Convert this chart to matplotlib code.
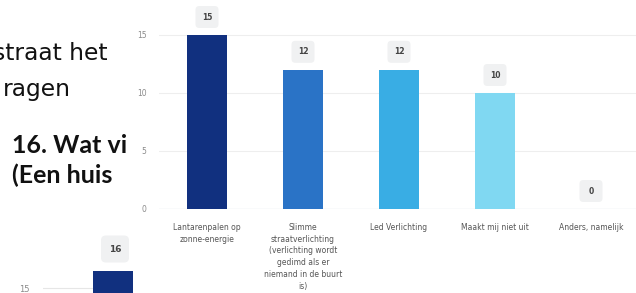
import matplotlib
matplotlib.use("Agg")
import matplotlib.pyplot as plt
from matplotlib.patches import Rectangle, FancyBboxPatch

# ---- data ----
categories = [
    "Lantarenpalen op\nzonne-energie",
    "Slimme\nstraatverlichting\n(verlichting wordt\ngedimd als er\nniemand in de buurt\nis)",
    "Led Verlichting",
    "Maakt mij niet uit",
    "Anders, namelijk",
]
values = [15, 12, 12, 10, 0]
bar_colors = ["#11307F", "#2A73C6", "#39ADE4", "#80D8F2", "#80D8F2"]
yticks = [0, 5, 10, 15]

bg_lines = ["straat het", "ragen"]
bg_title = ["16. Wat vi", "(Een huis"]
mini_values = [16]
mini_ticks = [15]

W, H = 636, 293
fig = plt.figure(figsize=(W / 100, H / 100), dpi=100)
fig.patch.set_facecolor("white")

def fx(px):
    return px / W

def fy(py):
    return 1 - py / H

# ---- background (partially hidden) content on the left ----
narrow = ["Liberation Sans Narrow", "DejaVu Sans"]
fig.text(fx(-7), fy(60), bg_lines[0], fontsize=16.8, family=narrow,
         color="#111111", va="baseline", ha="left", zorder=1)
fig.text(fx(3), fy(96), bg_lines[1], fontsize=16.8, family=narrow,
         color="#111111", va="baseline", ha="left", zorder=1)
titlefont = ["Lato", "DejaVu Sans"]
fig.text(fx(12), fy(153), bg_title[0], fontsize=18, fontweight="bold", family=titlefont,
         color="#111111", va="baseline", ha="left", zorder=1)
fig.text(fx(12), fy(183), bg_title[1], fontsize=18, fontweight="bold", family=titlefont,
         color="#111111", va="baseline", ha="left", zorder=1)

# mini chart (bottom-left, mostly off-canvas)
mpx_unit = 17.0
m_zero = 288 + 15 * mpx_unit
m_top = m_zero - 18 * mpx_unit
axm = fig.add_axes([fx(43), fy(m_zero), fx(200), (m_zero - m_top) / H])
axm.set_zorder(1)
axm.set_xlim(-1.8, 3.2)
axm.set_ylim(0, 18)
axm.bar(range(len(mini_values)), mini_values, width=1.1, color="#11307F", zorder=3)
axm.set_yticks(mini_ticks)
axm.tick_params(axis="y", length=0, labelsize=6, labelcolor="#8A8A8A", pad=10)
axm.set_xticks([])
axm.grid(axis="y", color="#E6E6E6", linewidth=0.8)
axm.set_axisbelow(True)
for s in axm.spines.values():
    s.set_visible(False)
for i, v in enumerate(mini_values):
    bw, bh = 28 / 40, 27 / mpx_unit
    cy = v + 22 / mpx_unit
    axm.add_patch(FancyBboxPatch((i - bw / 2, cy - bh / 2), bw, bh,
                                 boxstyle="round,pad=0,rounding_size=0.12",
                                 fc="#F0F1F2", ec="none", clip_on=False, zorder=4,
                                 mutation_aspect=40 / mpx_unit))
    axm.text(i, cy, str(v), ha="center", va="center", fontsize=6.5, color="#444444",
             fontweight="bold", clip_on=False, zorder=5)

# white panel covering the left content
fig.add_artist(Rectangle((fx(133), 0), 1 - fx(133), 1, transform=fig.transFigure,
                         fc="white", ec="none", zorder=2))

# ---- main chart ----
px_unit = 11.6
y0 = 209
ylim_top = 17
ax = fig.add_axes([fx(159), fy(y0), fx(480), ylim_top * px_unit / H])
ax.set_zorder(3)
ax.set_facecolor("none")
x = list(range(len(categories)))
ax.set_xlim(-0.5, len(categories) - 0.5)
ax.set_ylim(0, ylim_top)
ax.bar(x, values, width=0.42, color=bar_colors, zorder=3)
ax.set_yticks(yticks)
ax.tick_params(axis="y", length=0, labelsize=5.5, labelcolor="#8A8A8A", pad=9)
ax.set_xticks(x)
ax.set_xticklabels(categories, fontsize=5.5, color="#555555", linespacing=1.4)
ax.tick_params(axis="x", length=0, pad=10)
ax.grid(axis="y", color="#EEEEEE", linewidth=0.8, zorder=0)
ax.set_axisbelow(True)
for s in ax.spines.values():
    s.set_visible(False)
ax.axhline(0, color="#D8E0EA", linewidth=0.9, zorder=2)

bw = 23 / 96
bh = 22 / px_unit
for i, v in enumerate(values):
    cy = v + 18 / px_unit
    ax.add_patch(FancyBboxPatch((i - bw / 2, cy - bh / 2), bw, bh,
                                boxstyle="round,pad=0,rounding_size=0.04",
                                fc="#F0F1F2", ec="none", clip_on=False, zorder=4,
                                mutation_aspect=96 / px_unit))
    ax.text(i, cy, str(v), ha="center", va="center", fontsize=5.5, color="#444444",
            fontweight="bold", clip_on=False, zorder=5)

fig.savefig("out.png", dpi=100, facecolor="white")
